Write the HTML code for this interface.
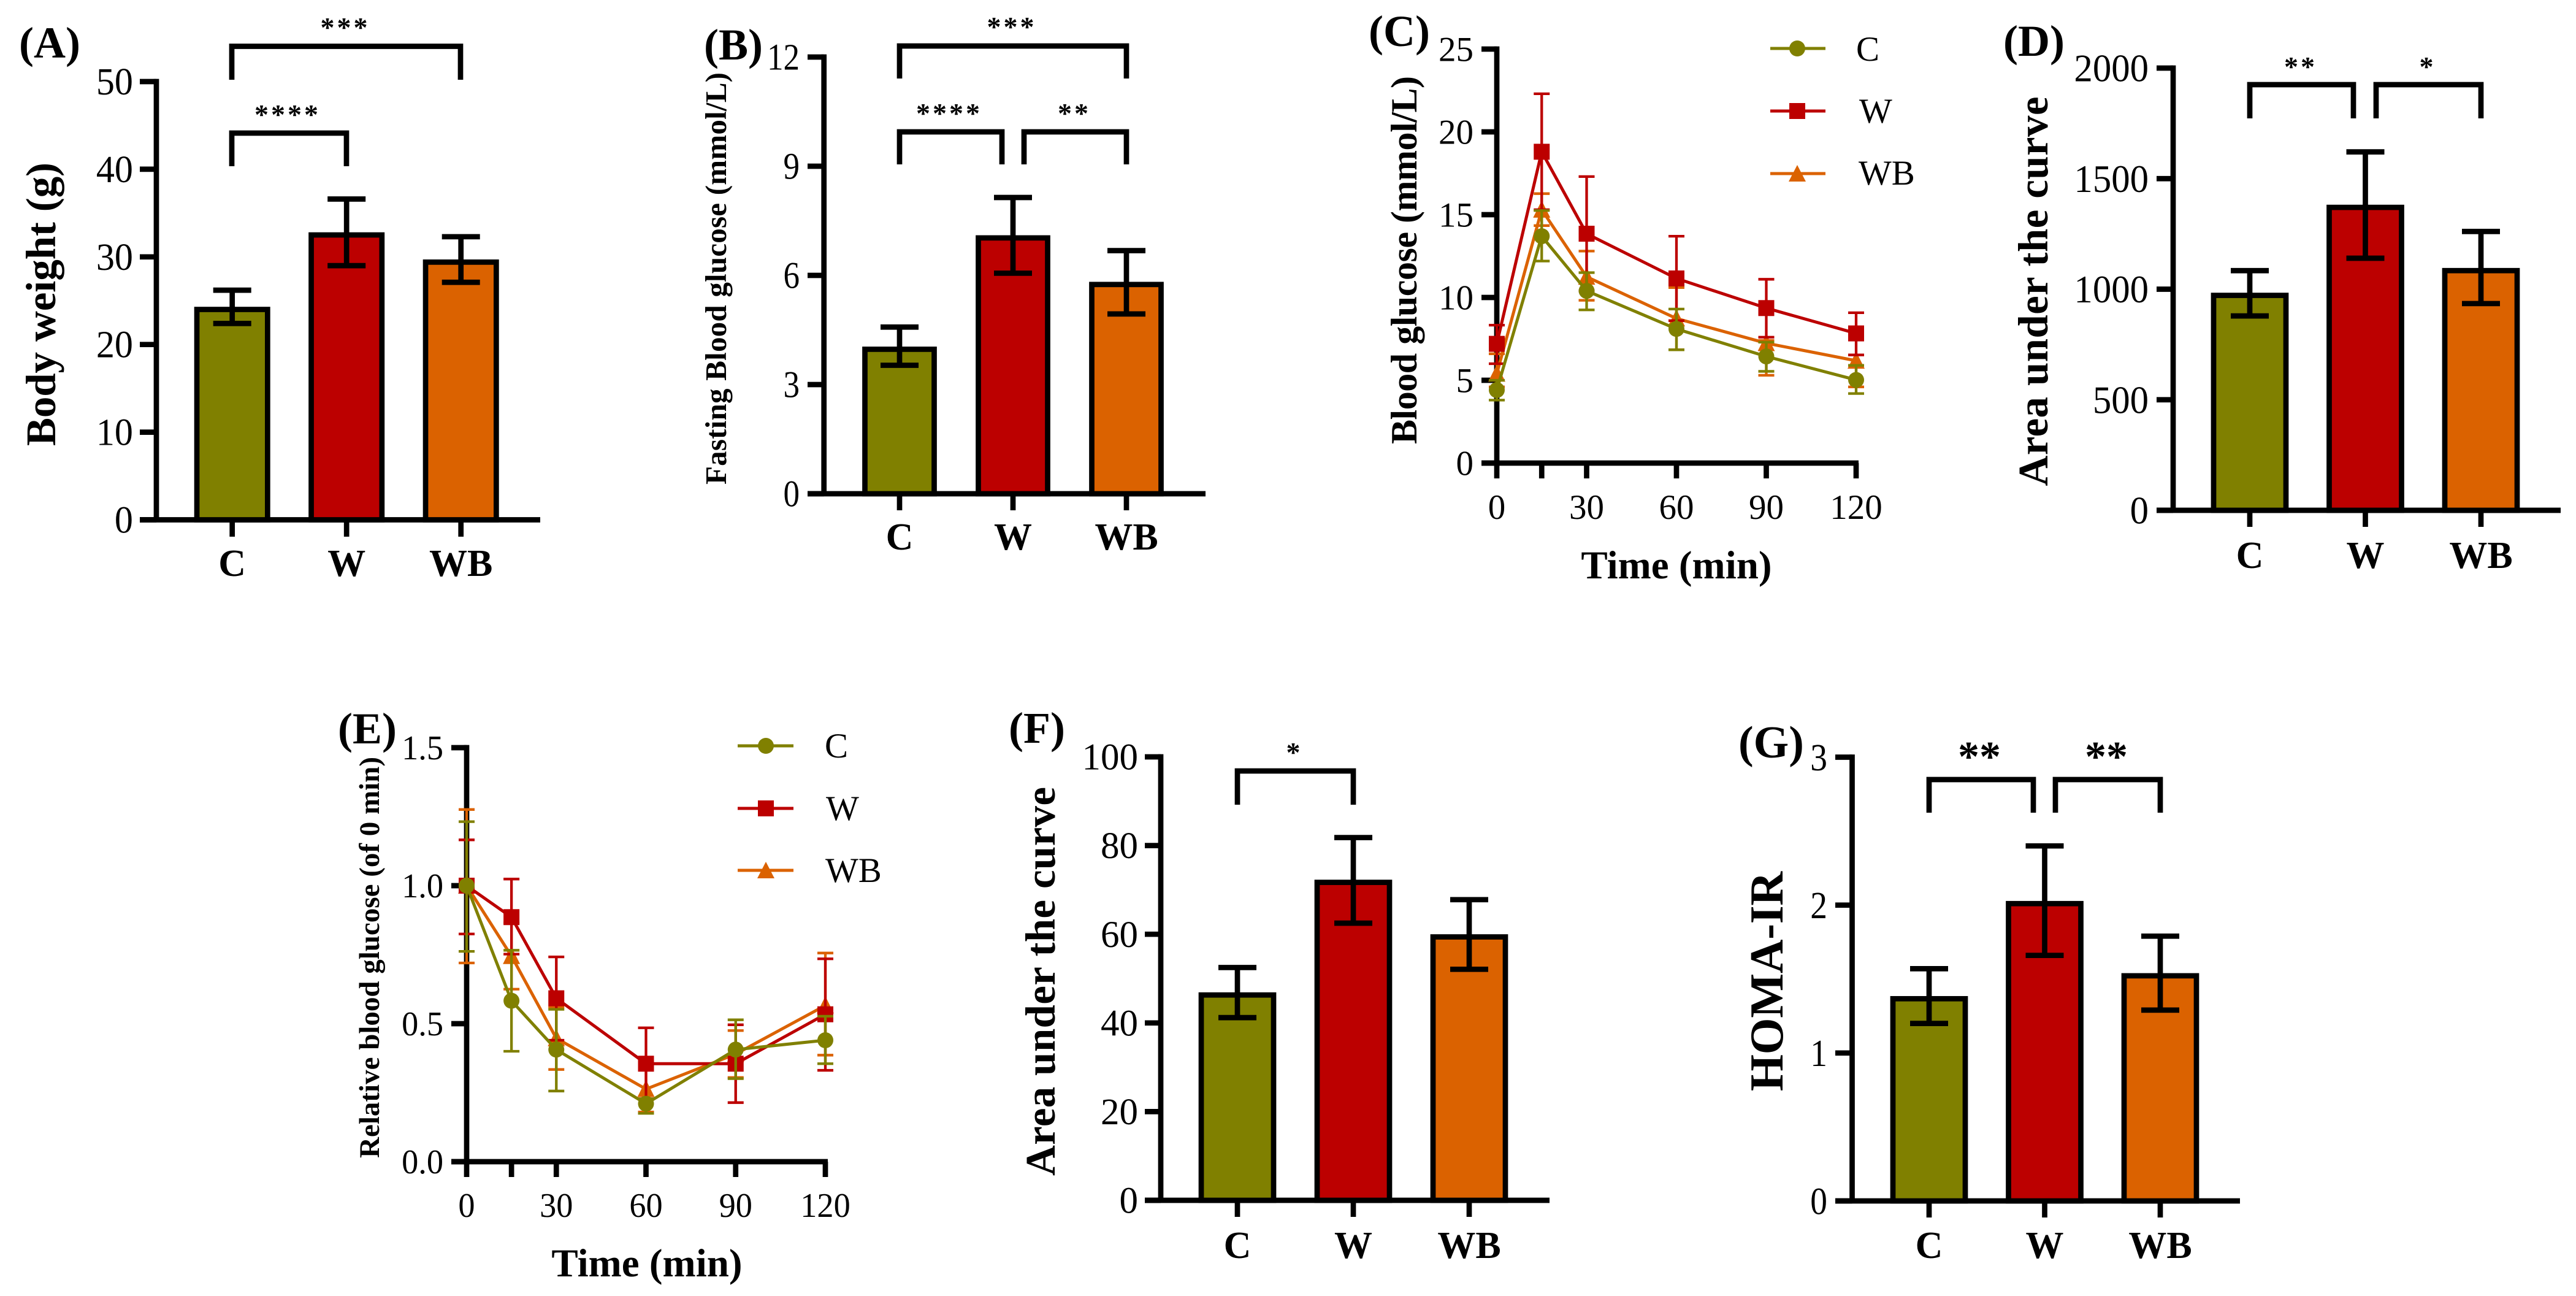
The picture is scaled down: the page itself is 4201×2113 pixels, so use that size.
<!DOCTYPE html>
<html lang="en">
<head>
<meta charset="utf-8">
<title>Body weight and glucose panels</title>
<style>
html,body{margin:0;padding:0;background:#fff;}
svg{display:block;}
text{font-family:"Liberation Serif","Times New Roman",serif;fill:#000;}
.b{font-weight:bold;}
.star{font-weight:bold;font-size:46px;letter-spacing:4px;text-anchor:middle;}
.br{fill:none;stroke:#000;stroke-width:8.7;}
.pl{font-weight:bold;font-size:72px;}
.lg{font-size:57px;}
</style>
</head>
<body>
<svg id="figure" xmlns="http://www.w3.org/2000/svg" width="4201" height="2113" viewBox="0 0 4201 2113">
<rect x="0" y="0" width="4201" height="2113" fill="#fff"/>

<g id="panel-a">
<text class="pl" x="31" y="94">(A)</text>
<text class="b" font-size="69" text-anchor="middle" textLength="462" lengthAdjust="spacing" transform="translate(90 496) rotate(-90)">Body weight (g)</text>
<path class="br" d="M378 130V75.5H751V130"/>
<path class="br" d="M378 271V217H565V271"/>
<text class="star" x="563" y="60">***</text>
<text class="star" x="469" y="202">****</text>
</g>

<g id="panel-b">
<text class="pl" x="1148" y="97">(B)</text>
<text class="b" font-size="49" text-anchor="middle" textLength="672" lengthAdjust="spacing" transform="translate(1184 454) rotate(-90)">Fasting Blood glucose (mmol/L)</text>
<path class="br" d="M1467 128V75H1837V128"/>
<path class="br" d="M1467 268V215H1634V268"/>
<path class="br" d="M1670 268V215H1837V268"/>
<text class="star" x="1650" y="59">***</text>
<text class="star" x="1548" y="200">****</text>
<text class="star" x="1752" y="200">**</text>
</g>

<g id="panel-c">
<text class="pl" x="2232" y="75">(C)</text>
<text class="b" font-size="60" text-anchor="middle" textLength="600" lengthAdjust="spacing" transform="translate(2310 424) rotate(-90)">Blood glucose (mmol/L)</text>
<text class="b" font-size="65" text-anchor="middle" x="2734" y="943">Time (min)</text>
<g>
<line x1="2887" x2="2977" y1="79" y2="79" stroke="#808000" stroke-width="5"/>
<circle cx="2931" cy="79" r="13" fill="#808000"/>
<text class="lg" x="3027" y="99">C</text>
<line x1="2887" x2="2977" y1="181" y2="181" stroke="#bc0000" stroke-width="5"/>
<rect x="2918" y="168" width="26" height="26" fill="#bc0000"/>
<text class="lg" x="3032" y="200">W</text>
<line x1="2887" x2="2977" y1="283" y2="283" stroke="#db6200" stroke-width="5"/>
<polygon points="2931,269 2945,296 2917,296" fill="#db6200"/>
<text class="lg" x="3031" y="301">WB</text>
</g>
</g>

<g id="panel-d">
<text class="pl" x="3267" y="91">(D)</text>
<text class="b" font-size="69" text-anchor="middle" textLength="635" lengthAdjust="spacing" transform="translate(3339 475) rotate(-90)">Area under the curve</text>
<path class="br" d="M3669 193V138H3838V193"/>
<path class="br" d="M3875 193V138H4046V193"/>
<text class="star" x="3752" y="124">**</text>
<text class="star" x="3959" y="124">*</text>
</g>

<g id="panel-e">
<text class="pl" x="551" y="1212">(E)</text>
<text class="b" font-size="47" text-anchor="middle" textLength="654" lengthAdjust="spacing" transform="translate(618 1561) rotate(-90)">Relative blood glucose (of 0 min)</text>
<text class="b" font-size="65" text-anchor="middle" x="1055" y="2081">Time (min)</text>
<g>
<line x1="1203" x2="1294" y1="1216" y2="1216" stroke="#808000" stroke-width="5"/>
<circle cx="1249" cy="1216" r="13" fill="#808000"/>
<text class="lg" x="1345" y="1235">C</text>
<line x1="1203" x2="1294" y1="1318" y2="1318" stroke="#bc0000" stroke-width="5"/>
<rect x="1236" y="1305" width="26" height="26" fill="#bc0000"/>
<text class="lg" x="1347" y="1337">W</text>
<line x1="1203" x2="1294" y1="1419" y2="1419" stroke="#db6200" stroke-width="5"/>
<polygon points="1249,1405 1263,1432 1235,1432" fill="#db6200"/>
<text class="lg" x="1346" y="1438">WB</text>
</g>
</g>

<g id="panel-f">
<text class="pl" x="1645" y="1211">(F)</text>
<text class="b" font-size="69" text-anchor="middle" textLength="634" lengthAdjust="spacing" transform="translate(1720 1600) rotate(-90)">Area under the curve</text>
<path class="br" d="M2018 1312V1257H2207V1312"/>
<text class="star" x="2111" y="1242">*</text>
</g>

<g id="panel-g">
<text class="pl" style="font-size:74px" x="2835" y="1235">(G)</text>
<text class="b" font-size="77" text-anchor="middle" textLength="358" lengthAdjust="spacing" transform="translate(2907 1600) rotate(-90)">HOMA-IR</text>
<path class="br" d="M3146 1325V1271H3316V1325"/>
<path class="br" d="M3352 1325V1271H3523V1325"/>
<text class="star" style="font-size:70px;letter-spacing:0" x="3228" y="1257">**</text>
<text class="star" style="font-size:70px;letter-spacing:0" x="3435" y="1257">**</text>
</g>
</svg>

<script>
const categories = ['C', 'W', 'WB'];
const times = [0, 15, 30, 60, 90, 120];
const timeTickLabels = ['0', '30', '60', '90', '120'];

const weightTicks = ['0', '10', '20', '30', '40', '50'];
const weightMeans = [24.0, 32.5, 29.4];
const weightUpper = [26.2, 36.6, 32.3];
const weightLower = [22.4, 29.0, 27.1];

const fastingTicks = ['0', '3', '6', '9', '12'];
const fastingMeans = [3.97, 7.03, 5.75];
const fastingUpper = [4.58, 8.14, 6.68];
const fastingLower = [3.53, 6.06, 4.94];

const aucDTicks = ['0', '500', '1000', '1500', '2000'];
const aucDMeans = [972, 1370, 1084];
const aucDUpper = [1084, 1621, 1261];
const aucDLower = [879, 1140, 935];

const aucFTicks = ['0', '20', '40', '60', '80', '100'];
const aucFMeans = [46.3, 71.7, 59.4];
const aucFUpper = [52.5, 81.8, 67.8];
const aucFLower = [41.2, 62.5, 52.1];

const homaTicks = ['0', '1', '2', '3'];
const homaMeans = [1.367, 2.01, 1.522];
const homaUpper = [1.57, 2.40, 1.79];
const homaLower = [1.20, 1.66, 1.29];

const glucoseTicks = ['0', '5', '10', '15', '20', '25'];
const glucoseC = [4.41, 13.7, 10.4, 8.1, 6.44, 5.02];
const glucoseCUpper = [5.0, 15.25, 11.5, 9.3, 7.3, 5.9];
const glucoseCLower = [3.8, 12.2, 9.25, 6.84, 5.54, 4.2];
const glucoseW = [7.2, 18.8, 13.85, 11.15, 9.36, 7.83];
const glucoseWUpper = [8.33, 22.3, 17.3, 13.7, 11.1, 9.08];
const glucoseWLower = [6.0, 15.3, 10.4, 8.6, 7.6, 6.53];
const glucoseWB = [5.4, 15.3, 11.25, 8.73, 7.24, 6.18];
const glucoseWBUpper = [6.6, 16.27, 12.8, 10.6, 7.4, 5.9];
const glucoseWBLower = [4.6, 14.34, 9.83, 6.84, 5.3, 4.6];

const relativeTicks = ['0.0', '0.5', '1.0', '1.5'];
const relativeC = [1.0, 0.583, 0.406, 0.21, 0.406, 0.44];
const relativeCUpper = [1.232, 0.766, 0.552, 0.228, 0.514, 0.527];
const relativeCLower = [0.762, 0.40, 0.256, 0.175, 0.301, 0.355];
const relativeW = [1.0, 0.886, 0.592, 0.355, 0.355, 0.534];
const relativeWUpper = [1.166, 1.024, 0.742, 0.485, 0.496, 0.735];
const relativeWLower = [0.825, 0.752, 0.44, 0.228, 0.214, 0.331];
const relativeWB = [1.0, 0.745, 0.447, 0.263, 0.39, 0.566];
const relativeWBUpper = [1.276, 0.865, 0.56, 0.35, 0.475, 0.756];
const relativeWBLower = [0.72, 0.625, 0.334, 0.18, 0.305, 0.386];

const OLIVE = '#808000';
const RED = '#bc0000';
const ORANGE = '#db6200';
const SVGNS = 'http://www.w3.org/2000/svg';
const AXIS_W = 8.7;

function make(parent, tag, attrs) {
  const node = document.createElementNS(SVGNS, tag);
  for (const key in attrs) node.setAttribute(key, attrs[key]);
  parent.appendChild(node);
  return node;
}

function linearY(frame, maxValue) {
  return v => frame.y0 - (v / maxValue) * (frame.y0 - frame.yTop);
}

function placed(x, y, sx) {
  return 'translate(' + x + ' ' + y + ') scale(' + sx + ' 1)';
}

function drawYAxis(group, frame, ticks, y, prefix) {
  const spine = make(group, 'line', {x1: frame.x0, x2: frame.x0, y1: frame.yTop - AXIS_W / 2, y2: frame.y0, stroke: '#000', 'stroke-width': AXIS_W});
  
  
  ticks.forEach(label => {
    const tick = make(group, 'line', {x1: frame.xLeft, x2: frame.x0, y1: y(Number(label)), y2: y(Number(label)), stroke: '#000', 'stroke-width': AXIS_W});
    
    
    const text = make(group, 'text', {transform: placed(frame.labelRight, y(Number(label)) + frame.tickFont * 0.338, frame.tickSX), 'text-anchor': 'end', 'font-size': frame.tickFont});
    text.textContent = label;
    
    
  });
  const base = make(group, 'line', {x1: frame.xLeft, x2: frame.xRight, y1: frame.y0, y2: frame.y0, stroke: '#000', 'stroke-width': AXIS_W});
  
  
}

function errorPath(x, hi, lo, capHalf) {
  return 'M' + x + ' ' + hi + 'V' + lo + 'M' + (x - capHalf) + ' ' + hi + 'H' + (x + capHalf) + 'M' + (x - capHalf) + ' ' + lo + 'H' + (x + capHalf);
}

function drawBarPanel(id, prefix, frame, ticks, means, upper, lower) {
  const group = document.getElementById(id);
  const y = linearY(frame, Number(ticks[ticks.length - 1]));
  const x = i => frame.firstCenter + i * frame.step;
  const fills = [OLIVE, RED, ORANGE];
  drawYAxis(group, frame, ticks, y, prefix);
  categories.forEach((cat, i) => {
    const tick = make(group, 'line', {x1: x(i), x2: x(i), y1: frame.y0, y2: frame.y0 + frame.tickLen, stroke: '#000', 'stroke-width': AXIS_W});
    
    
    const label = make(group, 'text', {x: x(i), y: frame.catBase, 'text-anchor': 'middle', 'font-size': 62, 'font-weight': 'bold'});
    label.textContent = cat;
    
    
    const bar = make(group, 'rect', {x: x(i) - frame.barW / 2, y: y(means[i]), width: frame.barW, height: frame.y0 - y(means[i]), fill: fills[i], stroke: '#000', 'stroke-width': AXIS_W});
    
    
    const err = make(group, 'path', {d: errorPath(x(i), y(upper[i]), y(lower[i]), 31), fill: 'none', stroke: '#000', 'stroke-width': AXIS_W});
    
    
  });
}

function drawLineAxes(group, frame, ticks, y, xOf, prefix) {
  drawYAxis(group, frame, ticks, y, prefix);
  times.forEach(t => {
    const tick = make(group, 'line', {x1: xOf(t), x2: xOf(t), y1: frame.y0, y2: frame.y0 + frame.tickLen, stroke: '#000', 'stroke-width': AXIS_W});
    
    
  });
  timeTickLabels.forEach(label => {
    const text = make(group, 'text', {transform: placed(xOf(Number(label)), frame.timeBase, frame.tickSX), 'text-anchor': 'middle', 'font-size': frame.tickFont});
    text.textContent = label;
    
    
  });
}

function drawSeries(group, prefix, name, color, shape, values, upper, lower, y, xOf) {
  times.forEach((t, i) => {
    const err = make(group, 'path', {d: errorPath(xOf(t), y(upper[i]), y(lower[i]), 13), fill: 'none', stroke: color, 'stroke-width': 4.3});
    
    
  });
  const line = make(group, 'polyline', {points: times.map((t, i) => xOf(t) + ',' + y(values[i])).join(' '), fill: 'none', stroke: color, 'stroke-width': 5});
  
  
  times.forEach((t, i) => {
    const px = xOf(t);
    const py = y(values[i]);
    let marker;
    if (shape === 'circle') marker = make(group, 'circle', {cx: px, cy: py, r: 13, fill: color});
    else if (shape === 'square') marker = make(group, 'rect', {x: px - 13, y: py - 13, width: 26, height: 26, fill: color});
    else marker = make(group, 'polygon', {points: px + ',' + (py - 15) + ' ' + (px + 14) + ',' + (py + 13) + ' ' + (px - 14) + ',' + (py + 13), fill: color});
    
    
  });
}

drawBarPanel('panel-a', 'a', {x0: 255, yTop: 133, y0: 847.5, xLeft: 228, xRight: 881, labelRight: 217, tickFont: 62, tickSX: 0.97, firstCenter: 378.7, step: 186.5, barW: 115.3, tickLen: 27.5, catBase: 939}, weightTicks, weightMeans, weightUpper, weightLower);
drawBarPanel('panel-b', 'b', {x0: 1343.7, yTop: 93, y0: 805, xLeft: 1317, xRight: 1966, labelRight: 1304, tickFont: 61, tickSX: 0.87, firstCenter: 1467, step: 185, barW: 113, tickLen: 27, catBase: 896}, fastingTicks, fastingMeans, fastingUpper, fastingLower);
drawBarPanel('panel-d', 'd', {x0: 3544, yTop: 111, y0: 832, xLeft: 3517, xRight: 4176, labelRight: 3504, tickFont: 64, tickSX: 0.95, firstCenter: 3669, step: 188.5, barW: 118, tickLen: 27, catBase: 926}, aucDTicks, aucDMeans, aucDUpper, aucDLower);
drawBarPanel('panel-f', 'f', {x0: 1893, yTop: 1234, y0: 1957, xLeft: 1867, xRight: 2527, labelRight: 1856, tickFont: 61, tickSX: 1, firstCenter: 2018, step: 189, barW: 118, tickLen: 27, catBase: 2051}, aucFTicks, aucFMeans, aucFUpper, aucFLower);
drawBarPanel('panel-g', 'g', {x0: 3020.5, yTop: 1234.5, y0: 1958, xLeft: 2993, xRight: 3653, labelRight: 2980, tickFont: 63, tickSX: 0.88, firstCenter: 3146, step: 188.5, barW: 118, tickLen: 27, catBase: 2051}, homaTicks, homaMeans, homaUpper, homaLower);

const frameC = {x0: 2441, yTop: 80, y0: 755, xLeft: 2416, xRight: 3031, labelRight: 2403, tickFont: 57, tickSX: 1, tickLen: 25, timeBase: 846, xEnd: 3027};
const groupC = document.getElementById('panel-c');
const yC = linearY(frameC, 25);
const xC = t => frameC.x0 + (t / 120) * (frameC.xEnd - frameC.x0);
drawLineAxes(groupC, frameC, glucoseTicks, yC, xC, 'c');
drawSeries(groupC, 'c', 'WB', ORANGE, 'triangle', glucoseWB, glucoseWBUpper, glucoseWBLower, yC, xC);
drawSeries(groupC, 'c', 'W', RED, 'square', glucoseW, glucoseWUpper, glucoseWLower, yC, xC);
drawSeries(groupC, 'c', 'C', OLIVE, 'circle', glucoseC, glucoseCUpper, glucoseCLower, yC, xC);

const frameE = {x0: 761, yTop: 1219, y0: 1894, xLeft: 736, xRight: 1350, labelRight: 723, tickFont: 56, tickSX: 0.97, tickLen: 25, timeBase: 1984, xEnd: 1346};
const groupE = document.getElementById('panel-e');
const yE = linearY(frameE, 1.5);
const xE = t => frameE.x0 + (t / 120) * (frameE.xEnd - frameE.x0);
drawLineAxes(groupE, frameE, relativeTicks, yE, xE, 'e');
drawSeries(groupE, 'e', 'WB', ORANGE, 'triangle', relativeWB, relativeWBUpper, relativeWBLower, yE, xE);
drawSeries(groupE, 'e', 'W', RED, 'square', relativeW, relativeWUpper, relativeWLower, yE, xE);
drawSeries(groupE, 'e', 'C', OLIVE, 'circle', relativeC, relativeCUpper, relativeCLower, yE, xE);
</script>
</body>
</html>
